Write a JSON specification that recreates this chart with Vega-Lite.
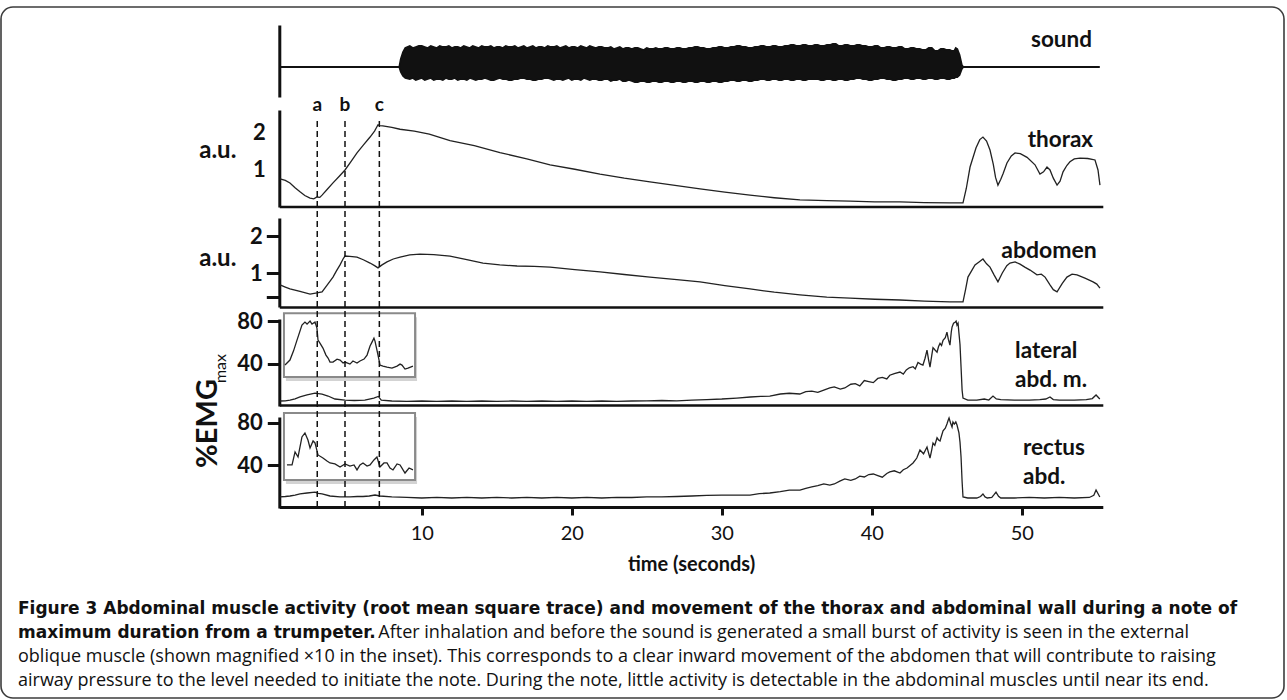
{
"$schema":"https://vega.github.io/schema/vega-lite/v6.json",
"width":1283,"height":691,
"autosize":{"type":"none"},
"padding":{"left":1,"top":7,"right":3,"bottom":2},
"background":"white",
"config":{
  "font":"Lato",
  "view":{"stroke":"#3c3c3c","strokeWidth":1.6,"cornerRadius":12},
  "axis":{"grid":false,"domainColor":"#111","domainWidth":3,"tickColor":"#111","tickWidth":3,"labelColor":"#111","labelFont":"Lato","labelFontWeight":"bold","labelFontSize":22,"titleFont":"Lato","titleColor":"#111","titleFontWeight":"bold","labelFlush":false,"labelOverlap":false},
  "text":{"font":"Lato","color":"#111"}
},
"datasets":{
"sound":[{"t":0.5,"u":0,"l":0},{"t":8.5,"u":0,"l":0},{"t":8.6,"u":8,"l":-5},{"t":8.75,"u":15,"l":-9},{"t":8.9,"u":19,"l":-11},{"t":9.2,"u":21,"l":-12},{"t":9.4,"u":19,"l":-11},{"t":9.6,"u":20,"l":-13},{"t":9.8,"u":21,"l":-12},{"t":10.0,"u":21,"l":-11},{"t":10.2,"u":20,"l":-13},{"t":10.4,"u":19,"l":-12},{"t":10.6,"u":21,"l":-11},{"t":10.8,"u":20,"l":-13},{"t":11.0,"u":19,"l":-12},{"t":11.2,"u":21,"l":-12},{"t":11.4,"u":20,"l":-13},{"t":11.6,"u":20,"l":-11},{"t":11.8,"u":21,"l":-12},{"t":12.0,"u":19,"l":-12},{"t":12.2,"u":20,"l":-11},{"t":12.4,"u":20,"l":-13},{"t":12.6,"u":19,"l":-12},{"t":12.8,"u":21,"l":-12},{"t":13.0,"u":20,"l":-13},{"t":13.2,"u":19,"l":-11},{"t":13.4,"u":21,"l":-12},{"t":13.6,"u":20,"l":-13},{"t":13.8,"u":19,"l":-12},{"t":14.0,"u":21,"l":-12},{"t":14.2,"u":20,"l":-11},{"t":14.4,"u":20,"l":-12},{"t":14.6,"u":21,"l":-13},{"t":14.8,"u":19,"l":-13},{"t":15.0,"u":20,"l":-12},{"t":15.2,"u":20,"l":-11},{"t":15.4,"u":19,"l":-12},{"t":15.6,"u":21,"l":-12},{"t":15.8,"u":20,"l":-13},{"t":16.0,"u":20,"l":-13},{"t":16.2,"u":21,"l":-12},{"t":16.4,"u":19,"l":-12},{"t":16.6,"u":20,"l":-11},{"t":16.8,"u":21,"l":-11},{"t":17.0,"u":19,"l":-12},{"t":17.2,"u":20,"l":-12},{"t":17.4,"u":21,"l":-13},{"t":17.6,"u":19,"l":-13},{"t":17.8,"u":20,"l":-12},{"t":18.0,"u":20,"l":-12},{"t":18.2,"u":19,"l":-11},{"t":18.4,"u":21,"l":-11},{"t":18.6,"u":20,"l":-12},{"t":18.8,"u":20,"l":-13},{"t":19.0,"u":21,"l":-12},{"t":19.2,"u":19,"l":-12},{"t":19.4,"u":20,"l":-13},{"t":19.6,"u":21,"l":-12},{"t":19.8,"u":19,"l":-11},{"t":20.0,"u":20,"l":-13},{"t":20.2,"u":20,"l":-12},{"t":20.4,"u":19,"l":-12},{"t":20.6,"u":21,"l":-13},{"t":20.8,"u":20,"l":-11},{"t":21.0,"u":19,"l":-12},{"t":21.2,"u":21,"l":-13},{"t":21.4,"u":20,"l":-12},{"t":21.6,"u":19,"l":-12},{"t":21.8,"u":20,"l":-13},{"t":22.0,"u":20,"l":-13},{"t":22.2,"u":19,"l":-12},{"t":22.4,"u":19,"l":-12},{"t":22.6,"u":20,"l":-14},{"t":22.8,"u":18,"l":-13},{"t":23.0,"u":19,"l":-13},{"t":23.2,"u":20,"l":-12},{"t":23.4,"u":18,"l":-14},{"t":23.6,"u":19,"l":-14},{"t":23.8,"u":19,"l":-13},{"t":24.0,"u":18,"l":-14},{"t":24.2,"u":19,"l":-15},{"t":24.4,"u":19,"l":-15},{"t":24.6,"u":18,"l":-14},{"t":24.8,"u":17,"l":-14},{"t":25.0,"u":19,"l":-15},{"t":25.2,"u":18,"l":-15},{"t":25.4,"u":18,"l":-14},{"t":25.6,"u":19,"l":-14},{"t":25.8,"u":18,"l":-15},{"t":26.0,"u":18,"l":-15},{"t":26.2,"u":19,"l":-14},{"t":26.4,"u":19,"l":-14},{"t":26.6,"u":18,"l":-15},{"t":26.8,"u":18,"l":-15},{"t":27.0,"u":19,"l":-14},{"t":27.2,"u":19,"l":-14},{"t":27.4,"u":18,"l":-15},{"t":27.6,"u":18,"l":-15},{"t":27.8,"u":19,"l":-14},{"t":28.0,"u":19,"l":-14},{"t":28.2,"u":20,"l":-15},{"t":28.4,"u":20,"l":-15},{"t":28.6,"u":19,"l":-14},{"t":28.8,"u":19,"l":-14},{"t":29.0,"u":18,"l":-15},{"t":29.2,"u":18,"l":-15},{"t":29.4,"u":19,"l":-14},{"t":29.6,"u":19,"l":-14},{"t":29.8,"u":20,"l":-15},{"t":30.0,"u":20,"l":-15},{"t":30.2,"u":19,"l":-14},{"t":30.4,"u":19,"l":-14},{"t":30.6,"u":20,"l":-13},{"t":30.8,"u":20,"l":-13},{"t":31.0,"u":21,"l":-14},{"t":31.2,"u":21,"l":-14},{"t":31.4,"u":20,"l":-13},{"t":31.6,"u":20,"l":-13},{"t":31.8,"u":19,"l":-14},{"t":32.0,"u":19,"l":-14},{"t":32.2,"u":20,"l":-13},{"t":32.4,"u":20,"l":-13},{"t":32.6,"u":21,"l":-12},{"t":32.8,"u":21,"l":-12},{"t":33.0,"u":20,"l":-13},{"t":33.2,"u":20,"l":-13},{"t":33.4,"u":21,"l":-12},{"t":33.6,"u":21,"l":-12},{"t":33.8,"u":20,"l":-13},{"t":34.0,"u":20,"l":-13},{"t":34.2,"u":21,"l":-12},{"t":34.4,"u":21,"l":-12},{"t":34.6,"u":22,"l":-13},{"t":34.8,"u":22,"l":-13},{"t":35.0,"u":21,"l":-12},{"t":35.2,"u":21,"l":-12},{"t":35.4,"u":22,"l":-13},{"t":35.6,"u":22,"l":-13},{"t":35.8,"u":21,"l":-12},{"t":36.0,"u":21,"l":-12},{"t":36.2,"u":22,"l":-12},{"t":36.4,"u":22,"l":-12},{"t":36.6,"u":21,"l":-13},{"t":36.8,"u":21,"l":-13},{"t":37.0,"u":22,"l":-12},{"t":37.2,"u":22,"l":-12},{"t":37.4,"u":23,"l":-13},{"t":37.6,"u":23,"l":-13},{"t":37.8,"u":21,"l":-12},{"t":38.0,"u":21,"l":-12},{"t":38.2,"u":22,"l":-13},{"t":38.4,"u":22,"l":-13},{"t":38.6,"u":21,"l":-12},{"t":38.8,"u":21,"l":-12},{"t":39.0,"u":22,"l":-11},{"t":39.2,"u":22,"l":-11},{"t":39.4,"u":21,"l":-12},{"t":39.6,"u":21,"l":-12},{"t":39.8,"u":20,"l":-13},{"t":40.0,"u":20,"l":-13},{"t":40.2,"u":21,"l":-12},{"t":40.4,"u":21,"l":-12},{"t":40.6,"u":19,"l":-11},{"t":40.8,"u":19,"l":-11},{"t":41.0,"u":20,"l":-12},{"t":41.2,"u":20,"l":-12},{"t":41.4,"u":19,"l":-13},{"t":41.6,"u":19,"l":-13},{"t":41.8,"u":20,"l":-12},{"t":42.0,"u":20,"l":-12},{"t":42.2,"u":18,"l":-11},{"t":42.4,"u":18,"l":-11},{"t":42.6,"u":19,"l":-12},{"t":42.8,"u":19,"l":-12},{"t":43.0,"u":18,"l":-11},{"t":43.2,"u":18,"l":-11},{"t":43.4,"u":17,"l":-12},{"t":43.6,"u":17,"l":-12},{"t":43.8,"u":19,"l":-11},{"t":44.0,"u":19,"l":-11},{"t":44.2,"u":16,"l":-12},{"t":44.4,"u":16,"l":-12},{"t":44.6,"u":18,"l":-11},{"t":44.8,"u":18,"l":-11},{"t":45.0,"u":17,"l":-12},{"t":45.2,"u":17,"l":-12},{"t":45.35,"u":16,"l":-11},{"t":45.5,"u":16,"l":-11},{"t":45.6,"u":19,"l":-10},{"t":45.7,"u":18,"l":-10},{"t":45.85,"u":12,"l":-8},{"t":46.0,"u":2,"l":-2},{"t":46.1,"u":0,"l":0},{"t":55.2,"u":0,"l":0}],
"thorax":[{"t":0.55,"v":0.76},{"t":0.9,"v":0.72},{"t":1.21,"v":0.65},{"t":1.55,"v":0.52},{"t":1.88,"v":0.41},{"t":2.2,"v":0.31},{"t":2.55,"v":0.24},{"t":2.8,"v":0.22},{"t":3.01,"v":0.27},{"t":3.2,"v":0.26},{"t":3.35,"v":0.32},{"t":3.7,"v":0.48},{"t":4.08,"v":0.65},{"t":4.5,"v":0.83},{"t":4.88,"v":1.0},{"t":5.3,"v":1.24},{"t":5.68,"v":1.46},{"t":6.1,"v":1.67},{"t":6.55,"v":1.89},{"t":6.85,"v":2.05},{"t":7.08,"v":2.22},{"t":7.2,"v":2.2},{"t":7.4,"v":2.19},{"t":8.0,"v":2.15},{"t":8.55,"v":2.1},{"t":9.5,"v":2.05},{"t":10.5,"v":1.97},{"t":11.88,"v":1.79},{"t":13.5,"v":1.66},{"t":15.21,"v":1.47},{"t":17.0,"v":1.3},{"t":18.55,"v":1.14},{"t":20.2,"v":1.02},{"t":21.88,"v":0.89},{"t":23.5,"v":0.78},{"t":25.21,"v":0.68},{"t":27.0,"v":0.58},{"t":28.55,"v":0.49},{"t":30.2,"v":0.4},{"t":31.88,"v":0.32},{"t":33.5,"v":0.25},{"t":35.21,"v":0.19},{"t":37.0,"v":0.17},{"t":38.55,"v":0.16},{"t":40.2,"v":0.14},{"t":41.88,"v":0.14},{"t":43.5,"v":0.12},{"t":45.21,"v":0.11},{"t":46.08,"v":0.11},{"t":46.3,"v":0.5},{"t":46.55,"v":1.08},{"t":46.95,"v":1.6},{"t":47.2,"v":1.82},{"t":47.41,"v":1.89},{"t":47.65,"v":1.78},{"t":47.88,"v":1.54},{"t":48.1,"v":1.15},{"t":48.25,"v":0.8},{"t":48.41,"v":0.59},{"t":48.6,"v":0.75},{"t":48.75,"v":0.9},{"t":49.01,"v":1.19},{"t":49.3,"v":1.38},{"t":49.55,"v":1.46},{"t":49.9,"v":1.44},{"t":50.35,"v":1.34},{"t":50.88,"v":1.14},{"t":51.21,"v":0.89},{"t":51.45,"v":0.95},{"t":51.68,"v":1.08},{"t":51.88,"v":1.0},{"t":52.1,"v":0.78},{"t":52.35,"v":0.59},{"t":52.55,"v":0.7},{"t":52.75,"v":0.95},{"t":53.0,"v":1.12},{"t":53.21,"v":1.22},{"t":53.5,"v":1.3},{"t":53.88,"v":1.32},{"t":54.4,"v":1.31},{"t":54.88,"v":1.27},{"t":55.08,"v":1.0},{"t":55.21,"v":0.59}],
"abdomen":[{"t":0.55,"v":0.68},{"t":0.9,"v":0.62},{"t":1.21,"v":0.57},{"t":1.88,"v":0.5},{"t":2.55,"v":0.43},{"t":3.01,"v":0.46},{"t":3.35,"v":0.49},{"t":3.7,"v":0.68},{"t":4.08,"v":0.89},{"t":4.3,"v":1.05},{"t":4.55,"v":1.22},{"t":4.75,"v":1.38},{"t":4.88,"v":1.46},{"t":5.2,"v":1.45},{"t":5.68,"v":1.43},{"t":6.1,"v":1.36},{"t":6.55,"v":1.27},{"t":6.85,"v":1.2},{"t":7.08,"v":1.14},{"t":7.35,"v":1.22},{"t":7.68,"v":1.3},{"t":8.1,"v":1.38},{"t":8.55,"v":1.43},{"t":9.2,"v":1.49},{"t":9.88,"v":1.51},{"t":10.8,"v":1.5},{"t":11.88,"v":1.46},{"t":13.0,"v":1.36},{"t":14.08,"v":1.27},{"t":15.2,"v":1.22},{"t":16.35,"v":1.19},{"t":17.5,"v":1.18},{"t":18.55,"v":1.16},{"t":20.2,"v":1.09},{"t":21.88,"v":1.03},{"t":23.5,"v":0.96},{"t":25.21,"v":0.89},{"t":27.0,"v":0.82},{"t":28.55,"v":0.76},{"t":30.2,"v":0.66},{"t":31.88,"v":0.57},{"t":33.5,"v":0.48},{"t":35.21,"v":0.41},{"t":37.0,"v":0.35},{"t":38.55,"v":0.32},{"t":40.2,"v":0.29},{"t":41.88,"v":0.27},{"t":43.5,"v":0.24},{"t":45.21,"v":0.22},{"t":46.08,"v":0.22},{"t":46.25,"v":0.55},{"t":46.41,"v":0.89},{"t":46.88,"v":1.22},{"t":47.15,"v":1.3},{"t":47.41,"v":1.38},{"t":47.65,"v":1.25},{"t":47.88,"v":1.16},{"t":48.15,"v":0.95},{"t":48.41,"v":0.76},{"t":48.7,"v":1.0},{"t":49.0,"v":1.2},{"t":49.21,"v":1.27},{"t":49.55,"v":1.3},{"t":49.88,"v":1.24},{"t":50.2,"v":1.16},{"t":50.55,"v":1.08},{"t":51.01,"v":0.95},{"t":51.3,"v":0.97},{"t":51.55,"v":0.89},{"t":51.88,"v":0.68},{"t":52.1,"v":0.55},{"t":52.35,"v":0.49},{"t":52.7,"v":0.72},{"t":53.01,"v":0.89},{"t":53.35,"v":0.97},{"t":53.68,"v":0.95},{"t":54.21,"v":0.86},{"t":54.75,"v":0.76},{"t":55.0,"v":0.7},{"t":55.21,"v":0.59}],
"lateral":[{"t":0.55,"v":4.7},{"t":0.9,"v":4.9},{"t":1.21,"v":5.6},{"t":1.55,"v":6.8},{"t":1.88,"v":8.5},{"t":2.35,"v":10.4},{"t":2.88,"v":12.2},{"t":3.35,"v":11.3},{"t":3.75,"v":9.4},{"t":4.21,"v":6.6},{"t":4.88,"v":5.6},{"t":5.5,"v":5.2},{"t":6.2,"v":5.6},{"t":6.8,"v":7.5},{"t":7.1,"v":9.0},{"t":7.3,"v":5.6},{"t":8.0,"v":4.7},{"t":9,"v":4.3},{"t":10,"v":4.7},{"t":11,"v":4.3},{"t":12,"v":4.7},{"t":13,"v":4.3},{"t":14,"v":4.7},{"t":15,"v":4.3},{"t":16,"v":4.7},{"t":17,"v":4.3},{"t":18,"v":4.7},{"t":19,"v":4.3},{"t":20,"v":4.7},{"t":21,"v":4.3},{"t":22,"v":4.7},{"t":23,"v":4.3},{"t":24,"v":4.7},{"t":25,"v":4.9},{"t":26,"v":5.2},{"t":27,"v":4.9},{"t":28,"v":5.6},{"t":29,"v":6.1},{"t":30,"v":6.6},{"t":31,"v":7.5},{"t":31.9,"v":8.5},{"t":32.6,"v":9.0},{"t":33.2,"v":9.4},{"t":33.9,"v":11.3},{"t":34.5,"v":12.0},{"t":35.2,"v":11.3},{"t":35.6,"v":13.5},{"t":36.0,"v":14.0},{"t":36.4,"v":12.8},{"t":36.8,"v":15.0},{"t":37.2,"v":17.0},{"t":37.5,"v":18.0},{"t":37.9,"v":16.0},{"t":38.2,"v":17.0},{"t":38.6,"v":20.5},{"t":38.9,"v":21.0},{"t":39.2,"v":19.0},{"t":39.5,"v":24.0},{"t":39.8,"v":23.0},{"t":40.1,"v":22.0},{"t":40.4,"v":26.0},{"t":40.7,"v":27.0},{"t":41.0,"v":25.5},{"t":41.2,"v":29.0},{"t":41.5,"v":30.5},{"t":41.88,"v":32.0},{"t":42.1,"v":30.0},{"t":42.3,"v":34.0},{"t":42.5,"v":36.0},{"t":42.75,"v":37.0},{"t":42.9,"v":35.0},{"t":43.08,"v":41.0},{"t":43.25,"v":39.5},{"t":43.41,"v":38.6},{"t":43.55,"v":45.0},{"t":43.68,"v":52.7},{"t":43.78,"v":44.0},{"t":43.88,"v":36.7},{"t":44.0,"v":48.0},{"t":44.08,"v":55.0},{"t":44.2,"v":53.0},{"t":44.35,"v":50.8},{"t":44.45,"v":56.0},{"t":44.55,"v":59.0},{"t":44.65,"v":57.0},{"t":44.75,"v":62.0},{"t":44.9,"v":64.5},{"t":45.01,"v":69.6},{"t":45.1,"v":63.0},{"t":45.21,"v":57.4},{"t":45.3,"v":70.0},{"t":45.35,"v":74.4},{"t":45.45,"v":78.0},{"t":45.55,"v":79.0},{"t":45.62,"v":80.0},{"t":45.68,"v":76.2},{"t":45.75,"v":78.0},{"t":45.81,"v":68.7},{"t":45.88,"v":58.0},{"t":45.95,"v":36.7},{"t":46.02,"v":15.0},{"t":46.08,"v":7.5},{"t":46.4,"v":5.6},{"t":47.0,"v":5.6},{"t":47.5,"v":6.6},{"t":47.8,"v":5.6},{"t":48.08,"v":9.4},{"t":48.3,"v":6.6},{"t":48.6,"v":6.1},{"t":49.5,"v":5.6},{"t":50.5,"v":5.6},{"t":51.2,"v":6.1},{"t":51.6,"v":6.6},{"t":51.88,"v":8.5},{"t":52.1,"v":6.1},{"t":52.5,"v":5.6},{"t":53.5,"v":5.6},{"t":54.3,"v":6.1},{"t":54.7,"v":7.0},{"t":54.95,"v":10.4},{"t":55.2,"v":6.6}],
"rectus":[{"t":0.55,"v":10.4},{"t":0.9,"v":10.8},{"t":1.21,"v":11.3},{"t":1.55,"v":12.2},{"t":1.88,"v":13.2},{"t":2.35,"v":14.1},{"t":2.88,"v":15.0},{"t":3.1,"v":13.8},{"t":3.35,"v":13.2},{"t":3.88,"v":11.3},{"t":4.55,"v":10.4},{"t":5.21,"v":10.4},{"t":5.7,"v":10.8},{"t":6.08,"v":10.8},{"t":6.5,"v":11.3},{"t":6.88,"v":12.2},{"t":7.21,"v":11.3},{"t":8.0,"v":10.4},{"t":9,"v":9.9},{"t":10,"v":9.4},{"t":11,"v":9.9},{"t":12,"v":9.4},{"t":13,"v":9.9},{"t":14,"v":9.4},{"t":15,"v":9.9},{"t":16,"v":9.4},{"t":17,"v":9.9},{"t":18,"v":9.4},{"t":19,"v":9.9},{"t":20,"v":9.4},{"t":21,"v":9.9},{"t":22,"v":9.4},{"t":23,"v":9.9},{"t":24,"v":9.9},{"t":25,"v":10.4},{"t":26,"v":10.4},{"t":27,"v":10.8},{"t":28,"v":11.3},{"t":29,"v":11.8},{"t":30,"v":12.2},{"t":31,"v":12.2},{"t":31.88,"v":12.2},{"t":32.5,"v":13.5},{"t":33.2,"v":14.1},{"t":33.9,"v":15.5},{"t":34.5,"v":16.9},{"t":35.21,"v":16.9},{"t":35.6,"v":18.5},{"t":36.0,"v":19.8},{"t":36.4,"v":21.0},{"t":36.8,"v":22.6},{"t":37.2,"v":21.5},{"t":37.5,"v":22.6},{"t":37.9,"v":25.5},{"t":38.2,"v":27.3},{"t":38.6,"v":26.0},{"t":38.9,"v":27.3},{"t":39.2,"v":30.0},{"t":39.5,"v":29.2},{"t":39.8,"v":31.5},{"t":40.1,"v":32.0},{"t":40.4,"v":30.5},{"t":40.7,"v":29.0},{"t":41.0,"v":32.5},{"t":41.2,"v":33.9},{"t":41.5,"v":35.0},{"t":41.88,"v":32.9},{"t":42.1,"v":36.0},{"t":42.35,"v":37.6},{"t":42.55,"v":40.0},{"t":42.75,"v":42.4},{"t":43.0,"v":47.0},{"t":43.21,"v":54.6},{"t":43.45,"v":51.0},{"t":43.68,"v":57.4},{"t":43.78,"v":52.0},{"t":43.88,"v":47.0},{"t":44.0,"v":55.0},{"t":44.08,"v":61.2},{"t":44.2,"v":59.0},{"t":44.35,"v":66.0},{"t":44.45,"v":64.0},{"t":44.55,"v":63.1},{"t":44.65,"v":68.0},{"t":44.75,"v":72.5},{"t":44.9,"v":75.0},{"t":45.01,"v":79.1},{"t":45.08,"v":82.0},{"t":45.15,"v":84.7},{"t":45.25,"v":80.0},{"t":45.35,"v":76.2},{"t":45.41,"v":80.9},{"t":45.5,"v":79.0},{"t":45.6,"v":81.0},{"t":45.68,"v":78.1},{"t":45.81,"v":70.6},{"t":45.88,"v":62.0},{"t":45.95,"v":48.0},{"t":46.02,"v":25.0},{"t":46.08,"v":10.4},{"t":46.4,"v":9.4},{"t":47.0,"v":9.4},{"t":47.25,"v":10.8},{"t":47.41,"v":13.2},{"t":47.55,"v":10.4},{"t":47.7,"v":9.4},{"t":48.0,"v":9.9},{"t":48.15,"v":12.5},{"t":48.28,"v":15.0},{"t":48.45,"v":11.0},{"t":48.6,"v":9.4},{"t":49.5,"v":9.4},{"t":50.5,"v":9.9},{"t":51.5,"v":9.4},{"t":52.5,"v":9.9},{"t":53.5,"v":9.4},{"t":54.5,"v":9.9},{"t":54.8,"v":12.0},{"t":54.95,"v":16.9},{"t":55.2,"v":10.4}],
"latInset":[{"t":0.88,"v":38.6},{"t":1.21,"v":43.3},{"t":1.45,"v":52.0},{"t":1.68,"v":62.1},{"t":2.01,"v":76.2},{"t":2.21,"v":79.1},{"t":2.35,"v":77.2},{"t":2.55,"v":80.0},{"t":2.68,"v":77.2},{"t":2.88,"v":79.1},{"t":3.01,"v":73.4},{"t":3.08,"v":62.1},{"t":3.21,"v":59.3},{"t":3.41,"v":54.6},{"t":3.61,"v":48.0},{"t":3.75,"v":45.2},{"t":3.88,"v":41.4},{"t":4.08,"v":41.4},{"t":4.35,"v":44.2},{"t":4.55,"v":43.3},{"t":4.75,"v":40.5},{"t":4.88,"v":41.4},{"t":5.21,"v":39.5},{"t":5.41,"v":42.4},{"t":5.68,"v":40.5},{"t":5.88,"v":42.4},{"t":6.15,"v":44.2},{"t":6.35,"v":48.0},{"t":6.55,"v":56.5},{"t":6.68,"v":60.2},{"t":6.81,"v":64.0},{"t":6.88,"v":61.2},{"t":7.01,"v":52.7},{"t":7.15,"v":43.3},{"t":7.21,"v":38.6},{"t":7.41,"v":37.6},{"t":7.68,"v":36.7},{"t":8.01,"v":35.8},{"t":8.35,"v":37.6},{"t":8.55,"v":39.5},{"t":8.68,"v":38.6},{"t":8.88,"v":34.8},{"t":9.08,"v":35.8},{"t":9.41,"v":37.6}],
"recInset":[{"t":1.01,"v":40.5},{"t":1.35,"v":40.5},{"t":1.55,"v":52.7},{"t":1.75,"v":48.0},{"t":2.01,"v":66.8},{"t":2.21,"v":70.6},{"t":2.41,"v":64.0},{"t":2.55,"v":56.5},{"t":2.75,"v":63.1},{"t":2.88,"v":61.2},{"t":3.08,"v":49.9},{"t":3.41,"v":47.1},{"t":3.68,"v":44.2},{"t":3.88,"v":42.4},{"t":4.21,"v":41.4},{"t":4.55,"v":38.6},{"t":4.88,"v":41.4},{"t":5.21,"v":39.5},{"t":5.48,"v":40.5},{"t":5.68,"v":35.8},{"t":5.88,"v":40.5},{"t":6.08,"v":42.4},{"t":6.35,"v":39.5},{"t":6.55,"v":40.5},{"t":6.81,"v":45.2},{"t":7.01,"v":48.0},{"t":7.21,"v":38.6},{"t":7.48,"v":42.4},{"t":7.68,"v":42.4},{"t":7.88,"v":37.6},{"t":8.08,"v":35.8},{"t":8.35,"v":41.4},{"t":8.55,"v":40.5},{"t":8.75,"v":35.8},{"t":8.88,"v":32.9},{"t":9.15,"v":37.6},{"t":9.41,"v":35.8}],
"markers":[{"m":"a","t":3.03,"y0":0,"y1":1,"ly":1.03},{"m":"b","t":4.88,"y0":0,"y1":1,"ly":1.03},{"m":"c","t":7.17,"y0":0,"y1":1,"ly":1.03}],
"capBold":[{"line":1,"t":-16.92,"text":"Figure 3 Abdominal muscle activity (root mean square trace) and movement of the thorax and abdominal wall during a note of"},{"line":2,"t":-16.92,"text":"maximum duration from a trumpeter."}],
"capReg":[{"line":2,"t":7.1,"text":"After inhalation and before the sound is generated a small burst of activity is seen in the external"},{"line":3,"t":-16.92,"text":"oblique muscle (shown magnified ×10 in the inset). This corresponds to a clear inward movement of the abdomen that will contribute to raising"},{"line":4,"t":-16.92,"text":"airway pressure to the level needed to initiate the note. During the note, little activity is detectable in the abdominal muscles until near its end."}]
},
"resolve":{"scale":{"y":"independent"},"axis":{"x":"independent","y":"independent"}},
"layer":[
{"layer":[
  {"data":{"name":"sound"},"mark":{"type":"area","color":"#111","stroke":"#111","strokeWidth":1.8},
   "encoding":{"x":{"field":"t","type":"quantitative","scale":{"domain":[0.5,55.4],"range":[278.3,1101.8],"nice":false,"zero":false},"axis":null},
     "y":{"field":"u","type":"quantitative","scale":{"domain":[-30,42],"range":[90,18],"nice":false,"zero":false},"axis":{"orient":"left","offset":-278.3,"ticks":false,"labels":false,"title":null}},
     "y2":{"field":"l"}}},
  {"data":{"values":[{"t":54.68,"v":27,"label":"sound"}]},"mark":{"type":"text","align":"right","baseline":"middle","fontSize":22.5,"fontWeight":"bold"},
   "encoding":{"x":{"field":"t","type":"quantitative"},"y":{"field":"v","type":"quantitative"},"text":{"field":"label"}}}
]},
{"layer":[
  {"data":{"name":"thorax"},"mark":{"type":"line","color":"#222","strokeWidth":1.3},
   "encoding":{"x":{"field":"t","type":"quantitative","scale":{"domain":[0.5,55.4],"range":[278.3,1101.8],"nice":false,"zero":false},"axis":{"orient":"bottom","offset":-491.5,"ticks":false,"labels":false,"title":null,"domainWidth":2.5}},
     "y":{"field":"v","type":"quantitative","scale":{"domain":[0,2.62],"range":[200,103],"nice":false,"zero":false},"axis":{"orient":"left","offset":-278.3,"values":[1,2],"format":"d","ticks":false,"labelPadding":14,"title":"a.u.","titleAngle":0,"titleFontSize":24,"titleX":-62,"titleY":143,"titleAlign":"center","titleBaseline":"middle"}}}},
  {"data":{"values":[{"t":54.75,"v":1.81,"label":"thorax"}]},"mark":{"type":"text","align":"right","baseline":"middle","fontSize":22.5,"fontWeight":"bold"},
   "encoding":{"x":{"field":"t","type":"quantitative"},"y":{"field":"v","type":"quantitative"},"text":{"field":"label"}}}
]},
{"layer":[
  {"data":{"name":"abdomen"},"mark":{"type":"line","color":"#222","strokeWidth":1.3},
   "encoding":{"x":{"field":"t","type":"quantitative","scale":{"domain":[0.5,55.4],"range":[278.3,1101.8],"nice":false,"zero":false},"axis":{"orient":"bottom","offset":-391,"ticks":false,"labels":false,"title":null,"domainWidth":2.5}},
     "y":{"field":"v","type":"quantitative","scale":{"domain":[0.08,2.49],"range":[300,211],"nice":false,"zero":false},"axis":{"orient":"left","offset":-278.3,"values":[0.35,1,2],"labelExpr":"datum.value == 1 ? '1' : datum.value == 2 ? '2' : ''","tickSize":13,"labelPadding":4,"title":"a.u.","titleAngle":0,"titleFontSize":24,"titleX":-62,"titleY":251,"titleAlign":"center","titleBaseline":"middle"}}}},
  {"data":{"values":[{"t":55.0,"v":1.59,"label":"abdomen"}]},"mark":{"type":"text","align":"right","baseline":"middle","fontSize":23,"fontWeight":"bold"},
   "encoding":{"x":{"field":"t","type":"quantitative"},"y":{"field":"v","type":"quantitative"},"text":{"field":"label"}}}
]},
{"layer":[
  {"data":{"values":[{"t1":0.81,"t2":9.55,"v1":27.3,"v2":87.5}]},"mark":{"type":"rect","fill":"#b5b5b5","opacity":0.6,"xOffset":2,"x2Offset":2,"yOffset":4,"y2Offset":4},
   "encoding":{"x":{"field":"t1","type":"quantitative"},"x2":{"field":"t2"},"y":{"field":"v1","type":"quantitative"},"y2":{"field":"v2"}}},
  {"data":{"values":[{"t1":0.81,"t2":9.55,"v1":27.3,"v2":87.5}]},"mark":{"type":"rect","fill":"white","stroke":"#8a8a8a","strokeWidth":2},
   "encoding":{"x":{"field":"t1","type":"quantitative"},"x2":{"field":"t2"},"y":{"field":"v1","type":"quantitative"},"y2":{"field":"v2"}}},
  {"data":{"name":"lateral"},"mark":{"type":"line","color":"#222","strokeWidth":1.3},
   "encoding":{"x":{"field":"t","type":"quantitative","scale":{"domain":[0.5,55.4],"range":[278.3,1101.8],"nice":false,"zero":false},"axis":{"orient":"bottom","offset":-293,"ticks":false,"labels":false,"title":null,"domainWidth":2.5}},
     "y":{"field":"v","type":"quantitative","scale":{"domain":[0,82],"range":[399,312],"nice":false,"zero":false},"axis":{"orient":"left","offset":-278.3,"values":[40,80],"format":"d","tickSize":12,"labelPadding":5,"title":"max","titleAngle":-90,"titleFontSize":16,"titleFontWeight":"normal","titleX":-59,"titleY":361,"titleAlign":"center","titleBaseline":"middle"}}}},
  {"data":{"name":"latInset"},"mark":{"type":"line","color":"#222","strokeWidth":1.3},
   "encoding":{"x":{"field":"t","type":"quantitative"},"y":{"field":"v","type":"quantitative"}}},
  {"data":{"values":[{"t":49.55,"v":51.8,"label":"lateral\nabd. m."}]},"mark":{"type":"text","align":"left","baseline":"middle","lineBreak":"\n","lineHeight":29,"fontSize":22.5,"fontWeight":"bold"},
   "encoding":{"x":{"field":"t","type":"quantitative"},"y":{"field":"v","type":"quantitative"},"text":{"field":"label"}}}
]},
{"layer":[
  {"data":{"values":[{"t1":0.81,"t2":9.55,"v1":26.4,"v2":89.4}]},"mark":{"type":"rect","fill":"#b5b5b5","opacity":0.6,"xOffset":2,"x2Offset":2,"yOffset":4,"y2Offset":4},
   "encoding":{"x":{"field":"t1","type":"quantitative"},"x2":{"field":"t2"},"y":{"field":"v1","type":"quantitative"},"y2":{"field":"v2"}}},
  {"data":{"values":[{"t1":0.81,"t2":9.55,"v1":26.4,"v2":89.4}]},"mark":{"type":"rect","fill":"white","stroke":"#8a8a8a","strokeWidth":2},
   "encoding":{"x":{"field":"t1","type":"quantitative"},"x2":{"field":"t2"},"y":{"field":"v1","type":"quantitative"},"y2":{"field":"v2"}}},
  {"data":{"name":"rectus"},"mark":{"type":"line","color":"#222","strokeWidth":1.3},
   "encoding":{"x":{"field":"t","type":"quantitative","scale":{"domain":[0.5,55.4],"range":[278.3,1101.8],"nice":false,"zero":false},"axis":{"orient":"bottom","offset":-191,"values":[10,20,30,40,50],"format":"d","tickSize":8,"labelPadding":8,"labelFontWeight":"normal","labelFontSize":20,"title":"time (seconds)","titleFontSize":20,"titlePadding":11}},
     "y":{"field":"v","type":"quantitative","scale":{"domain":[0,85.6],"range":[501,410],"nice":false,"zero":false},"axis":{"orient":"left","offset":-278.3,"values":[40,80],"format":"d","tickSize":12,"labelPadding":5,"title":"%EMG","titleAngle":-90,"titleFontSize":29,"titleX":-72,"titleY":416,"titleAlign":"center","titleBaseline":"middle"}}}},
  {"data":{"name":"recInset"},"mark":{"type":"line","color":"#222","strokeWidth":1.3},
   "encoding":{"x":{"field":"t","type":"quantitative"},"y":{"field":"v","type":"quantitative"}}},
  {"data":{"values":[{"t":50.08,"v":56.5,"label":"rectus\nabd."}]},"mark":{"type":"text","align":"left","baseline":"middle","lineBreak":"\n","lineHeight":29,"fontSize":22.5,"fontWeight":"bold"},
   "encoding":{"x":{"field":"t","type":"quantitative"},"y":{"field":"v","type":"quantitative"},"text":{"field":"label"}}}
]},
{"data":{"name":"markers"},"layer":[
  {"mark":{"type":"rule","strokeDash":[6,4],"strokeWidth":1.5,"color":"#111"},
   "encoding":{"x":{"field":"t","type":"quantitative","scale":{"domain":[0.5,55.4],"range":[278.3,1101.8],"nice":false,"zero":false},"axis":null},
     "y":{"field":"y0","type":"quantitative","scale":{"domain":[0,1],"range":[500,110],"nice":false,"zero":false},"axis":null},"y2":{"field":"y1"}}},
  {"mark":{"type":"text","fontSize":19,"fontWeight":"bold","baseline":"middle"},
   "encoding":{"x":{"field":"t","type":"quantitative","axis":null},"y":{"field":"ly","type":"quantitative","axis":null},"text":{"field":"m"}}}
]},
{"layer":[
  {"data":{"name":"capBold"},"mark":{"type":"text","align":"left","baseline":"middle","fontSize":17,"fontWeight":"bold","font":"DejaVu Sans"},
   "encoding":{"x":{"field":"t","type":"quantitative","scale":{"domain":[0.5,55.4],"range":[278.3,1101.8],"nice":false,"zero":false},"axis":null},
     "y":{"field":"line","type":"quantitative","scale":{"domain":[1,4],"range":[602,674],"nice":false,"zero":false},"axis":null},"text":{"field":"text"}}},
  {"data":{"name":"capReg"},"mark":{"type":"text","align":"left","baseline":"middle","fontSize":18,"fontWeight":"normal","font":"Open Sans"},
   "encoding":{"x":{"field":"t","type":"quantitative","axis":null},"y":{"field":"line","type":"quantitative","axis":null},"text":{"field":"text"}}}
]}
]
}
